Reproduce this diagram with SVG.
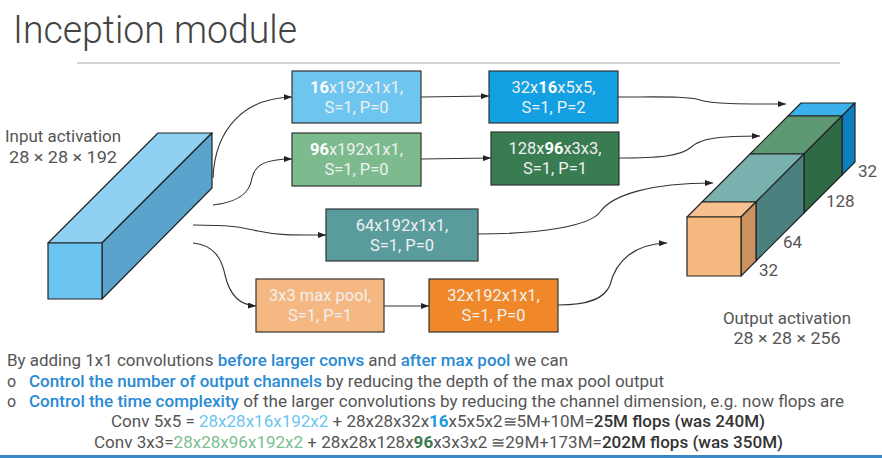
<svg xmlns="http://www.w3.org/2000/svg" width="882" height="458" viewBox="0 0 882 458">
<defs>
<marker id="ah" viewBox="0 0 8 6" refX="8" refY="3" markerWidth="8" markerHeight="6" orient="auto" markerUnits="userSpaceOnUse"><path d="M0,0 L8,3 L0,6 z" fill="#222"/></marker>
<style>
.t{font-family:Roboto,"Liberation Sans",sans-serif}
.lbl{font-family:Roboto,"Liberation Sans",sans-serif;font-size:17px;fill:#555;font-weight:400}
.bx{stroke:#333;stroke-width:1.2}
.bt{font-family:Roboto,"Liberation Sans",sans-serif;font-size:16.5px;fill:#f0f0f0;text-anchor:middle;font-weight:400}
.bb{font-weight:700;fill:#fff}
.cn{fill:none;stroke:#333;stroke-width:1.1}
.cube{stroke:#222;stroke-width:1.2;stroke-linejoin:round}
.body{font-family:Roboto,"Liberation Sans",sans-serif;font-size:16px;fill:#555}
.hb{fill:#2a8ad4;font-weight:500}
.dk{fill:#333;font-weight:500}
</style>
</defs>
<rect width="882" height="458" fill="#fff"/>
<text class="t" x="13" y="43" font-size="39" font-weight="300" fill="#444" textLength="284" lengthAdjust="spacingAndGlyphs">Inception module</text>
<line x1="77" y1="63" x2="840" y2="63" stroke="#c4c4c4" stroke-width="1.5"/>

<g id="input">
<polygon class="cube" points="48,243 102,243 212,133 158,133" fill="#8ed0f2"/>
<polygon class="cube" points="102,243 212,133 212,188 102,299" fill="#5aa3cc"/>
<rect class="cube" x="48" y="243" width="54" height="56" fill="#6cc5f0"/>
<text class="lbl" x="63" y="142" text-anchor="middle" textLength="116" lengthAdjust="spacingAndGlyphs">Input activation</text>
<text class="lbl" x="63" y="163" text-anchor="middle" textLength="108" lengthAdjust="spacingAndGlyphs">28 × 28 × 192</text>
</g>

<g id="conv1x1_16">
<rect class="bx" x="292" y="71" width="129" height="52" fill="#6ec6f0"/>
<text class="bt" x="356.5" y="93"><tspan class="bb">16</tspan>x192x1x1,</text>
<text class="bt" x="356.5" y="113">S=1, P=0</text>
</g>
<g id="conv5x5">
<rect class="bx" x="489" y="71" width="129" height="52" fill="#12a0e2"/>
<text class="bt" x="553.5" y="93">32x<tspan class="bb">16</tspan>x5x5,</text>
<text class="bt" x="553.5" y="113">S=1, P=2</text>
</g>
<g id="conv1x1_96">
<rect class="bx" x="292" y="133" width="129" height="53" fill="#7dbb8f"/>
<text class="bt" x="356.5" y="155"><tspan class="bb">96</tspan>x192x1x1,</text>
<text class="bt" x="356.5" y="175">S=1, P=0</text>
</g>
<g id="conv3x3">
<rect class="bx" x="491" y="132" width="128" height="53" fill="#3a7c52"/>
<text class="bt" x="555" y="154">128x<tspan class="bb">96</tspan>x3x3,</text>
<text class="bt" x="555" y="174">S=1, P=1</text>
</g>
<g id="conv1x1_64">
<rect class="bx" x="326" y="209" width="152" height="52" fill="#5a9c9e"/>
<text class="bt" x="402" y="231">64x192x1x1,</text>
<text class="bt" x="402" y="251">S=1, P=0</text>
</g>
<g id="maxpool">
<rect class="bx" x="256" y="279" width="128" height="53" fill="#f6b882"/>
<text class="bt" x="320" y="301">3x3 max pool,</text>
<text class="bt" x="320" y="321">S=1, P=1</text>
</g>
<g id="conv1x1_32">
<rect class="bx" x="429" y="279" width="129" height="53" fill="#f0882a"/>
<text class="bt" x="493.5" y="301">32x192x1x1,</text>
<text class="bt" x="493.5" y="321">S=1, P=0</text>
</g>

<g id="output">
<polygon class="cube" points="788,116 842,116 855,103 801,103" fill="#3bb0ea"/>
<polygon class="cube" points="842,116 855,103 855,162 842,175" fill="#0d7fc0"/>
<polygon class="cube" points="750,154 804,154 842,116 788,116" fill="#5e9873"/>
<polygon class="cube" points="804,154 842,116 842,175 804,213" fill="#2e6a45"/>
<polygon class="cube" points="702,202 756,202 804,154 750,154" fill="#7ab0ae"/>
<polygon class="cube" points="756,202 804,154 804,213 756,261" fill="#4a8080"/>
<polygon class="cube" points="687,217 741,217 756,202 702,202" fill="#f6c08f"/>
<polygon class="cube" points="741,217 756,202 756,261 741,276" fill="#c9925f"/>
<rect class="cube" x="687" y="217" width="54" height="59" fill="#f5b97f"/>
<text class="lbl" x="858" y="177" font-weight="300" font-size="18">32</text>
<text class="lbl" x="826" y="207" font-weight="300" font-size="18">128</text>
<text class="lbl" x="783" y="248" font-weight="300" font-size="18">64</text>
<text class="lbl" x="759" y="276" font-weight="300" font-size="18">32</text>
<text class="lbl" x="787" y="324" text-anchor="middle" textLength="128" lengthAdjust="spacingAndGlyphs">Output activation</text>
<text class="lbl" x="787" y="344" text-anchor="middle" textLength="107" lengthAdjust="spacingAndGlyphs">28 × 28 × 256</text>
</g>

<g id="connectors">
<path class="cn" marker-end="url(#ah)" d="M213,178 C215,128 245,98 292,97"/>
<path class="cn" marker-end="url(#ah)" d="M213,205 C240,202 250,192 252,178 C255,165 265,159 292,159"/>
<path class="cn" marker-end="url(#ah)" d="M193,225 C230,225 240,227 258,231 C280,236 300,235 326,235"/>
<path class="cn" marker-end="url(#ah)" d="M193,243 C215,245 222,260 225,275 C230,296 240,305 256,306"/>
<path class="cn" marker-end="url(#ah)" d="M421,97 L489,96"/>
<path class="cn" marker-end="url(#ah)" d="M421,159 L491,158"/>
<path class="cn" marker-end="url(#ah)" d="M384,306 L429,306"/>
<path class="cn" marker-end="url(#ah)" d="M618,97 C660,97 690,96 700,100 C712,104 740,104 786,104"/>
<path class="cn" marker-end="url(#ah)" d="M619,158 C660,158 680,156 690,148 C700,138 720,136 760,136"/>
<path class="cn" marker-end="url(#ah)" d="M478,234 C540,234 590,226 600,212 C612,195 650,183 713,183"/>
<path class="cn" marker-end="url(#ah)" d="M558,305 C590,305 605,298 610,285 C616,260 635,244 667,243"/>
</g>

<g id="notes">
<text class="body" x="7" y="366" textLength="561" lengthAdjust="spacingAndGlyphs">By adding 1x1 convolutions <tspan class="hb">before larger convs</tspan> and <tspan class="hb">after max pool</tspan> we can</text>
<text class="body" x="7" y="387">o</text>
<text class="body" x="29" y="387" textLength="635" lengthAdjust="spacingAndGlyphs"><tspan class="hb">Control the number of output channels</tspan> by reducing the depth of the max pool output</text>
<text class="body" x="7" y="407">o</text>
<text class="body" x="29" y="407" textLength="815" lengthAdjust="spacingAndGlyphs"><tspan class="hb">Control the time complexity</tspan> of the larger convolutions by reducing the channel dimension, e.g. now flops are</text>
<text class="body" x="111" y="427" textLength="654" lengthAdjust="spacingAndGlyphs">Conv 5x5 = <tspan fill="#6cc5ef">28x28x16x192x2</tspan> + 28x28x32x<tspan fill="#1a9be0" font-weight="700">16</tspan>x5x5x2≅5M+10M=<tspan class="dk">25M flops (was 240M)</tspan></text>
<text class="body" x="94" y="448" textLength="689" lengthAdjust="spacingAndGlyphs">Conv 3x3=<tspan fill="#7cbf8e">28x28x96x192x2</tspan> + 28x28x128x<tspan fill="#3a7c52" font-weight="700">96</tspan>x3x3x2 ≅29M+173M=<tspan class="dk">202M flops (was 350M)</tspan></text>
</g>
<rect x="0" y="455" width="882" height="3" fill="#3a87c8"/>
</svg>
